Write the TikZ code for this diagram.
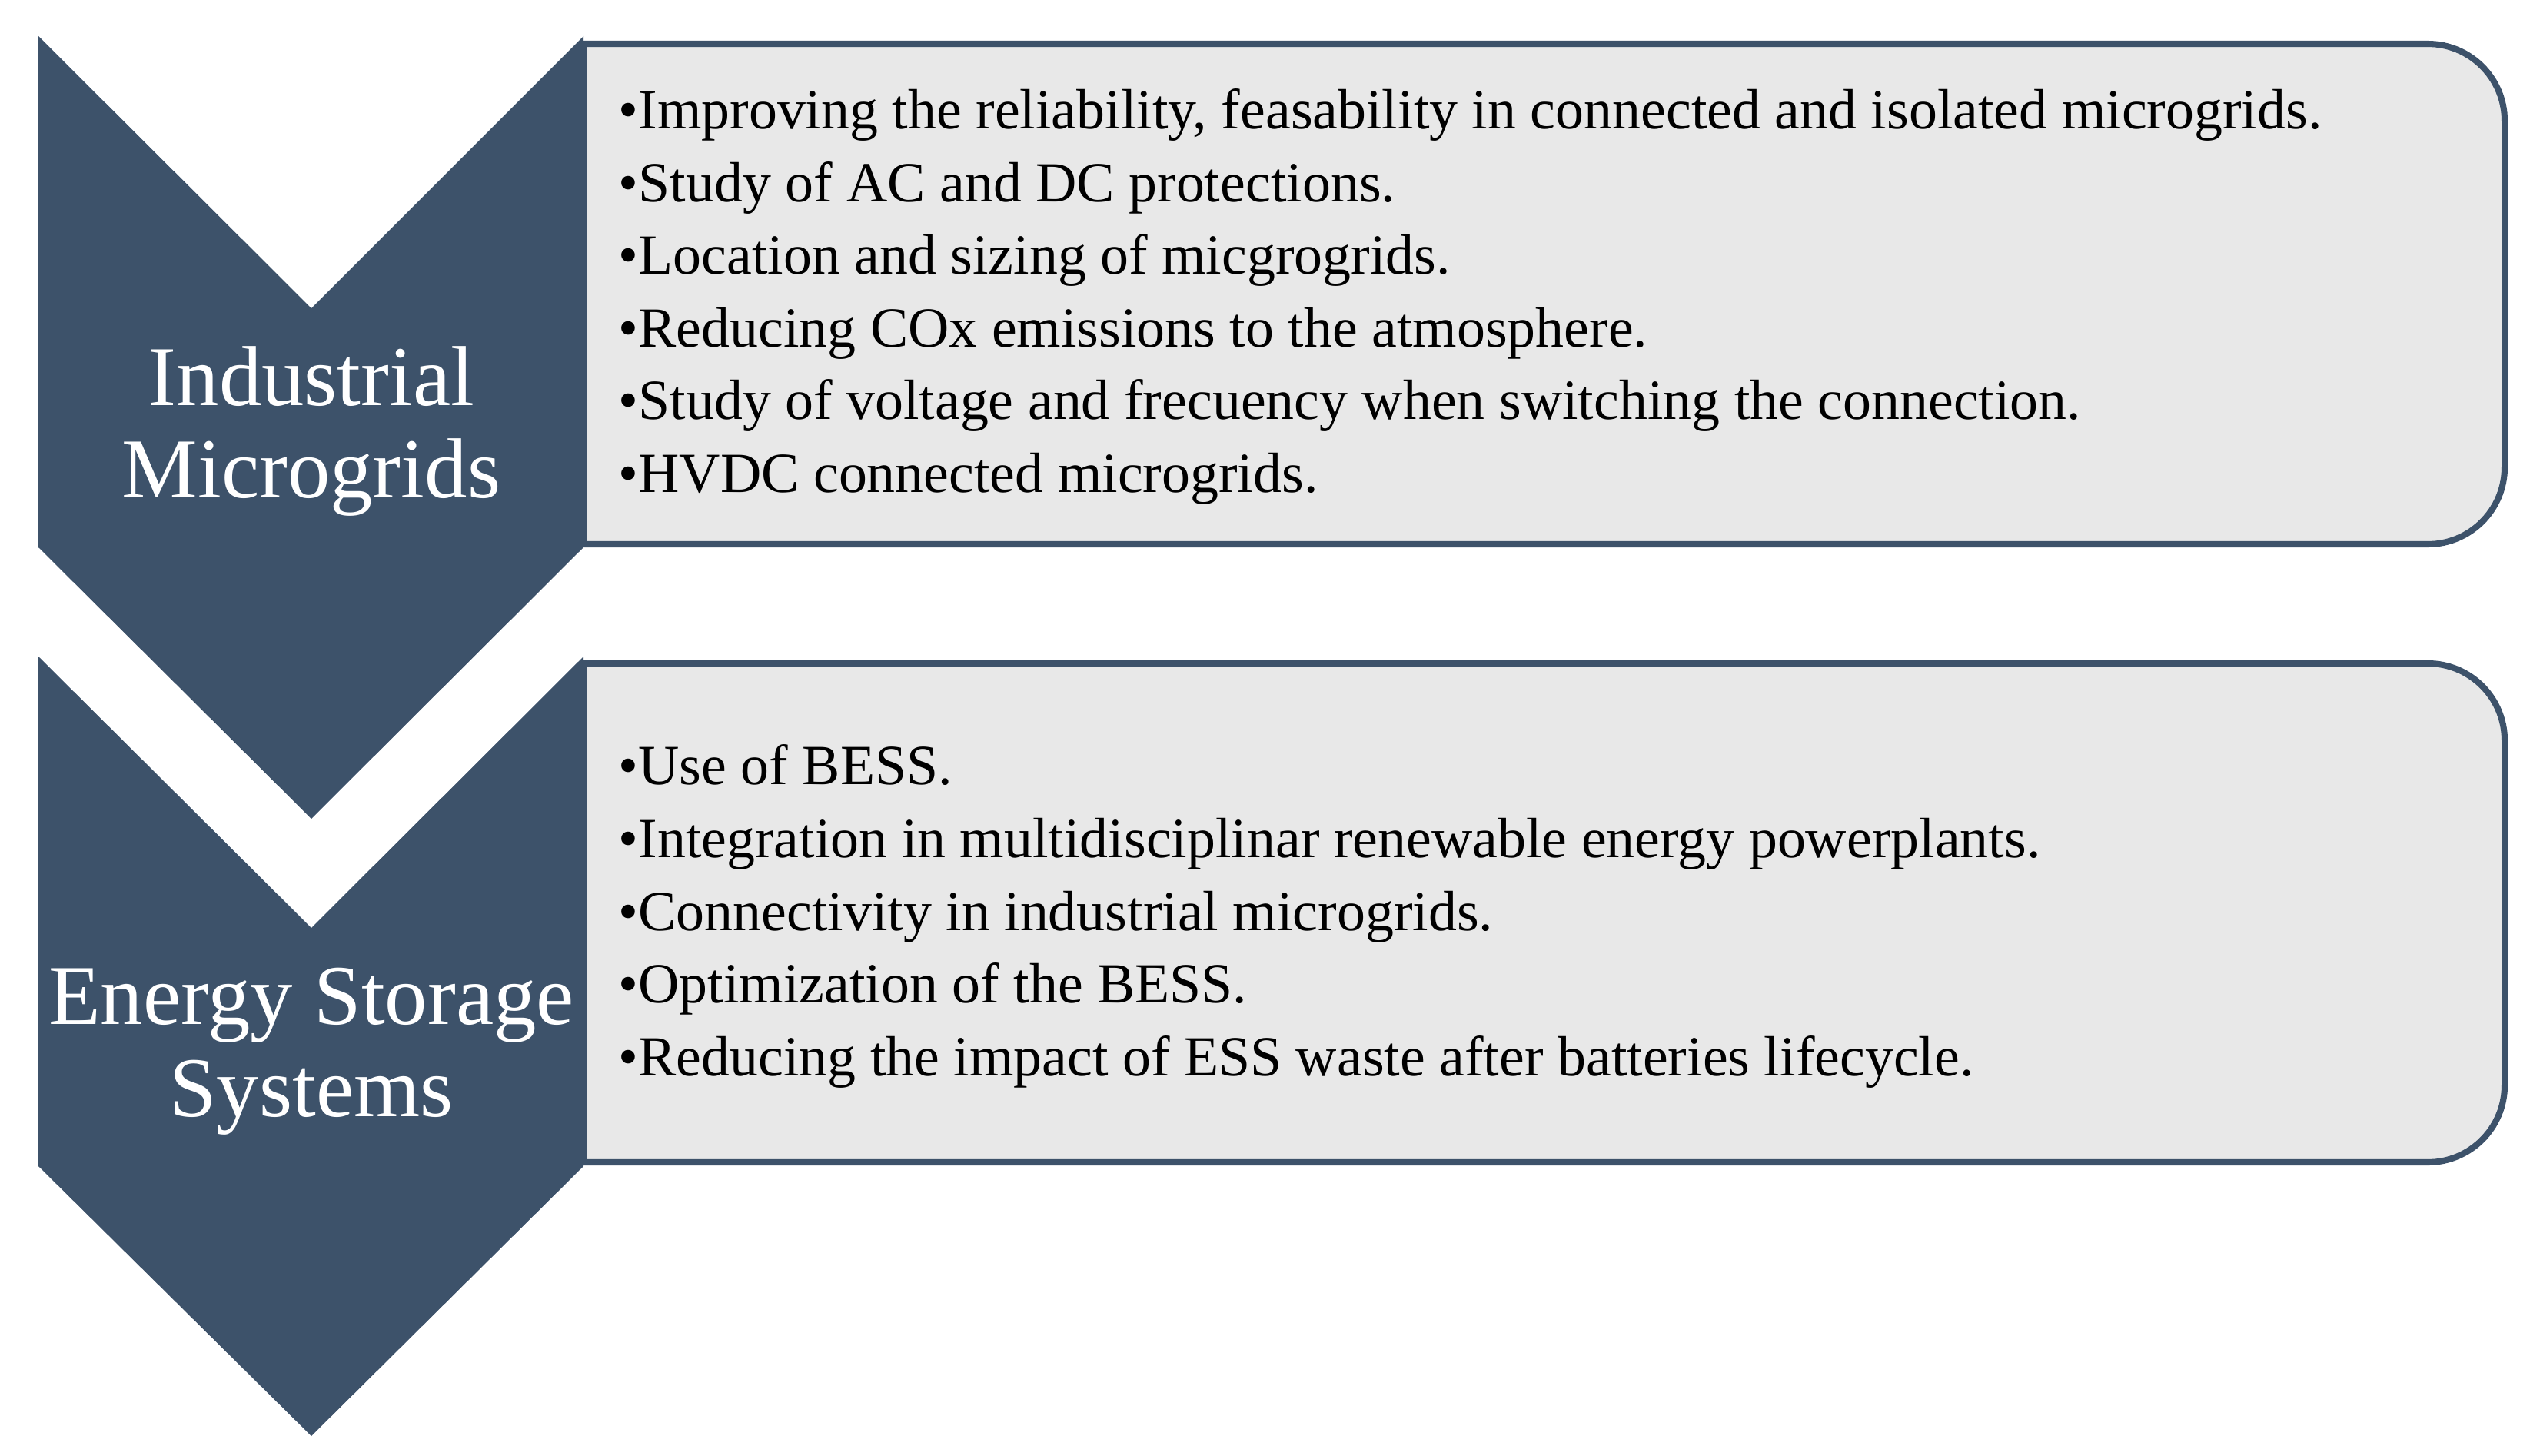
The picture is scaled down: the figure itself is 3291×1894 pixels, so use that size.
\documentclass[tikz,border=0pt]{standalone}
\usepackage{fontspec}
\setmainfont{Liberation Serif}
\definecolor{slate}{HTML}{3D526A}
\definecolor{panel}{HTML}{E8E8E8}

\begin{document}
\begin{tikzpicture}[x=0.01cm,y=-0.01cm,
  chevron/.style={fill=slate,draw=none},
  list box/.style={fill=panel,draw=slate,line width=2.3pt},
  title node/.style={align=center,text=white,inner sep=0pt,font=\fontsize{31.5}{34}\selectfont},
  item node/.style={align=left,anchor=west,inner sep=0pt,font=\fontsize{21}{26.9}\selectfont}]

  \useasboundingbox (0,0) rectangle (3291,1894);

  % list boxes
  \draw[list box] (759,57) [rounded corners=1cm] -- (3258,57) -- (3258,708) [sharp corners] -- (759,708) -- cycle;
  \draw[list box] (759,863) [rounded corners=1cm] -- (3258,863) -- (3258,1512) [sharp corners] -- (759,1512) -- cycle;

  % chevrons
  \fill[chevron] (50,47) -- (405,401) -- (759,47) -- (759,712) -- (405,1065) -- (50,712) -- cycle;
  \fill[chevron] (50,854) -- (405,1207) -- (759,854) -- (759,1517) -- (405,1868) -- (50,1517) -- cycle;

  \node[title node] (micro) at (405,561) {Industrial\\Microgrids};
  \node[title node] (storage) at (405,1368) {Energy Storage\\Systems};

  \node[item node] (microlist) at (804,386) {%
    •Improving the reliability, feasability in connected and isolated microgrids.\\
    •Study of AC and DC protections.\\
    •Location and sizing of micgrogrids.\\
    •Reducing COx emissions to the atmosphere.\\
    •Study of voltage and frecuency when switching the connection.\\
    •HVDC connected microgrids.};
  \node[item node] (storagelist) at (804,1192) {%
    •Use of BESS.\\
    •Integration in multidisciplinar renewable energy powerplants.\\
    •Connectivity in industrial microgrids.\\
    •Optimization of the BESS.\\
    •Reducing the impact of ESS waste after batteries lifecycle.};

\end{tikzpicture}
\end{document}
